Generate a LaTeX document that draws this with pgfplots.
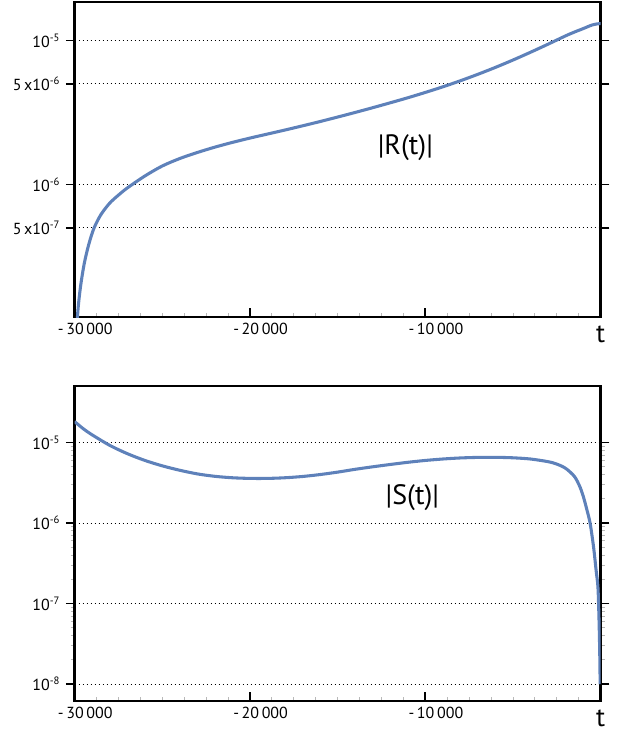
\documentclass[border=0pt]{standalone}
\usepackage{pgfplots}
\pgfplotsset{compat=1.18}
\usepackage{fontspec}
\setmainfont{PT Sans}
\definecolor{curve}{RGB}{94,129,186}

\pgfplotsset{
  tframe/.style={
    scale only axis, width=394.5pt, height=236.25pt,
    xmin=-30000, xmax=0,
    every axis/.append style={line width=2pt},
    scaled x ticks=false,
    xtick={-30000,-20000,-10000,0},
    xticklabels={-\,30\,000,-\,20\,000,-\,10\,000,},
    minor x tick num=7,
    xtick pos=left, ytick pos=both,
    xtick align=inside, ytick align=outside,
    major tick length=6.5pt, minor tick length=3pt,
    major tick style={black, line width=1.3pt},
    minor tick style={gray!55, line width=0.6pt},
    ymajorgrids,
    grid style={black, line width=0.6pt, dash pattern=on 0.7pt off 2.3pt},
    tick label style={font=\fontsize{12}{14}\selectfont},
    x tick label style={xshift=8pt},
    xlabel={t},
    xlabel style={at={(rel axis cs:1,0)}, anchor=north, yshift=-2pt,
      font=\fontsize{20}{22}\selectfont},
  }
}

\begin{document}
\begin{tikzpicture}
\path (-55.95pt,-312pt) rectangle (410.55pt,237.75pt);

\begin{semilogyaxis}[tframe,
    ymin=1.2e-7, ymax=1.85e-5,
    ytick={5e-7,1e-6,5e-6,1e-5},
    yticklabels={5\,x10\textsuperscript{-7},10\textsuperscript{-6},5\,x10\textsuperscript{-6},10\textsuperscript{-5}},
]
\addplot[curve, line width=2.3pt, smooth] coordinates {
(-29950,5.62e-8)(-29900,8.91e-8)(-29800,1.38e-7)(-29650,2.0e-7)(-29450,2.82e-7)
(-29200,3.80e-7)(-28900,4.95e-7)(-28500,6.17e-7)(-28000,7.41e-7)(-27500,8.43e-7)
(-27000,9.44e-7)(-26000,1.143e-6)
(-25000,1.343e-6)(-24000,1.514e-6)(-23000,1.667e-6)(-22000,1.816e-6)(-21000,1.959e-6)
(-20000,2.099e-6)(-19000,2.239e-6)(-18000,2.388e-6)(-17000,2.553e-6)(-16000,2.735e-6)
(-15000,2.938e-6)(-14000,3.162e-6)(-13000,3.412e-6)(-12000,3.690e-6)(-11000,3.999e-6)
(-10000,4.355e-6)(-9000,4.764e-6)(-8000,5.248e-6)(-7000,5.821e-6)(-6000,6.501e-6)
(-5000,7.311e-6)(-4000,8.279e-6)(-3000,9.419e-6)(-2000,1.076e-5)(-1500,1.143e-5)
(-1000,1.208e-5)(-500,1.279e-5)(-200,1.303e-5)(0,1.309e-5)};
\node[font=\fontsize{21}{24}\selectfont] at (axis cs:-11134,1.81e-6) {|R(t)|};
\end{semilogyaxis}

\begin{semilogyaxis}[tframe, at={(0,-288pt)},
    ymin=6.15e-9, ymax=5.03e-5,
    ytick={1e-8,1e-7,1e-6,1e-5},
    yticklabels={10\textsuperscript{-8},10\textsuperscript{-7},10\textsuperscript{-6},10\textsuperscript{-5}},
]
\addplot[curve, line width=2.3pt, smooth] coordinates {
(-30000,1.820e-5)(-29500,1.479e-5)(-29000,1.245e-5)(-28000,9.226e-6)(-27000,7.278e-6)
(-26000,5.998e-6)(-25000,5.129e-6)(-24000,4.519e-6)(-23000,4.074e-6)(-22000,3.802e-6)
(-21000,3.648e-6)(-20000,3.581e-6)(-19000,3.581e-6)(-18000,3.648e-6)(-17000,3.784e-6)
(-16000,3.999e-6)(-15000,4.285e-6)(-14000,4.645e-6)(-13000,4.989e-6)(-12000,5.333e-6)
(-11000,5.675e-6)(-10000,5.984e-6)(-9000,6.237e-6)(-8000,6.427e-6)(-7000,6.531e-6)
(-6000,6.546e-6)(-5000,6.457e-6)(-4000,6.237e-6)(-3000,5.781e-6)(-2500,5.395e-6)
(-2000,4.786e-6)(-1500,3.802e-6)(-1200,2.884e-6)(-1000,2.188e-6)(-800,1.514e-6)
(-600,1.0e-6)(-400,5.012e-7)(-250,2.512e-7)(-150,1.585e-7)(-90,6.31e-8)
(-50,2.512e-8)(-25,1.0e-8)};
\node[font=\fontsize{21}{24}\selectfont] at (axis cs:-10735,2.09e-6) {|S(t)|};
\end{semilogyaxis}
\end{tikzpicture}
\end{document}
